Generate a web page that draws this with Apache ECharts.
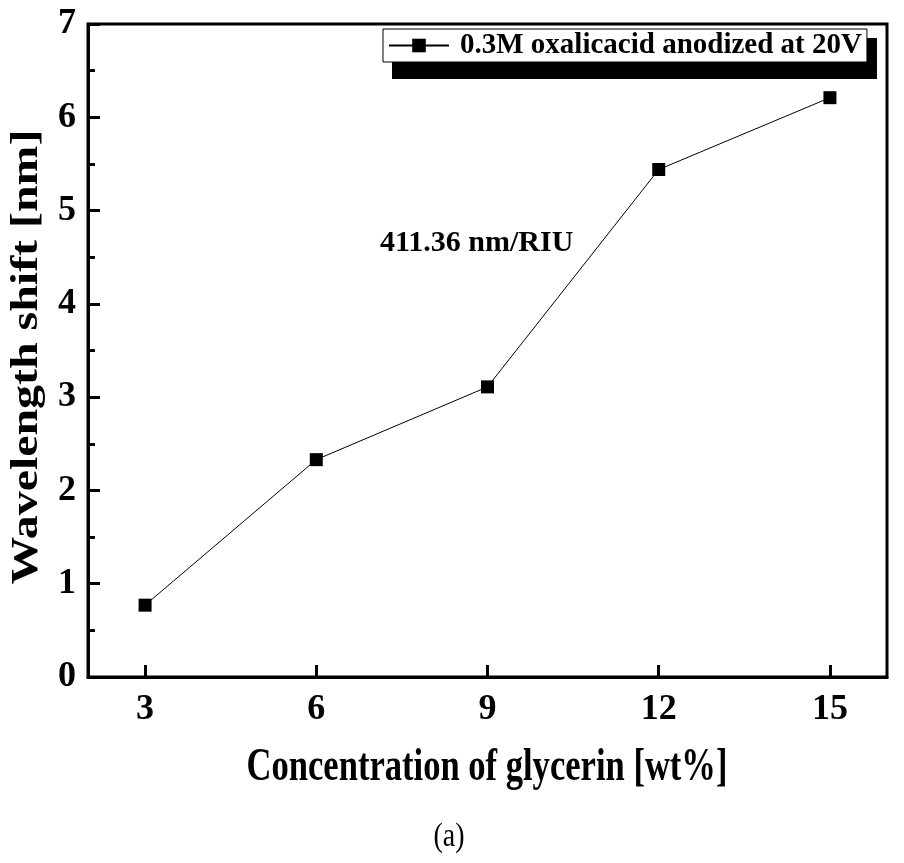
<!DOCTYPE html>
<html>
<head>
<meta charset="utf-8">
<script src="https://cdn.jsdelivr.net/npm/echarts@6/dist/echarts.min.js"></script>
<style>
html,body{margin:0;padding:0;background:#fff;}
#c{width:904px;height:863px;}
</style>
</head>
<body>
<div id="c"></div>
<script>
var concentration = [3, 6, 9, 12, 15];
var wavelengthShift = [0.77, 2.33, 3.11, 5.44, 6.21];
var xTicks = [3, 6, 9, 12, 15];
var seriesName = '0.3M oxalicacid anodized at 20V';
var annotation = '411.36 nm/RIU';
var xTitle = 'Concentration of glycerin [wt%]';
var yTitle = 'Wavelength shift [nm]';
var caption = '(a)';

var FONT = '"Liberation Serif", "Times New Roman", serif';
var chart = echarts.init(document.getElementById('c'), null, {renderer: 'canvas'});
var data = concentration.map(function (x, i) { return [x, wavelengthShift[i]]; });

chart.setOption({
  animation: false,
  backgroundColor: '#fff',
  grid: {left: 88, right: 17, top: 24, bottom: 186, show: true, borderColor: '#000', borderWidth: 3, containLabel: false},
  xAxis: {
    type: 'value', min: 2, max: 16,
    axisLine: {show: true, lineStyle: {color: '#000', width: 3}},
    axisTick: {show: true, inside: true, length: 12, lineStyle: {color: '#000', width: 3}, customValues: xTicks},
    axisLabel: {fontFamily: FONT, fontWeight: 'bold', fontSize: 36, color: '#000', margin: 15, customValues: xTicks},
    splitLine: {show: false}
  },
  yAxis: {
    type: 'value', min: 0, max: 7, interval: 1,
    axisLine: {show: true, lineStyle: {color: '#000', width: 3}},
    axisTick: {show: true, inside: true, length: 12, lineStyle: {color: '#000', width: 3}},
    minorTick: {show: true, splitNumber: 2, length: 7, lineStyle: {color: '#000', width: 3}},
    axisLabel: {fontFamily: FONT, fontWeight: 'bold', fontSize: 36, color: '#000', margin: 12},
    splitLine: {show: false}
  },
  legend: {
    show: true,
    left: 383, top: 29,
    padding: [2, 5, 2, 5],
    backgroundColor: '#fff',
    borderColor: '#000', borderWidth: 1,
    itemWidth: 60, itemHeight: 17,
    itemGap: 0,
    textStyle: {fontFamily: FONT, fontWeight: 'bold', fontSize: 29, color: '#000', padding: [0, 0, 0, 6]},
    data: [{name: seriesName}]
  },
  graphic: [
    {type: 'rect', left: 392, top: 38, shape: {width: 485, height: 41}, style: {fill: '#000'}, z: 1, silent: true},
    {type: 'text', left: 380, top: 228, style: {text: annotation, font: 'bold 30px ' + FONT, fill: '#000'}, z: 10},
    {type: 'text', x: 487, y: 768, scaleX: 0.96, scaleY: 1.28,
     style: {text: xTitle, font: 'bold 36px ' + FONT, fill: '#000', align: 'center', verticalAlign: 'middle'}, z: 10},
    {type: 'text', x: 27, y: 357, rotation: Math.PI / 2, scaleX: 1.26, scaleY: 1,
     style: {text: yTitle, font: 'bold 38px ' + FONT, fill: '#000', align: 'center', verticalAlign: 'middle'}, z: 10},
    {type: 'text', x: 449, y: 837, scaleY: 1.2,
     style: {text: caption, font: 'normal 28px ' + FONT, fill: '#000', align: 'center', verticalAlign: 'middle'}, z: 10}
  ],
  series: [{
    name: seriesName,
    type: 'line',
    data: data,
    symbol: 'rect',
    symbolSize: 13,
    itemStyle: {color: '#000'},
    lineStyle: {color: '#000', width: 1},
    z: 5
  }]
});
</script>
</body>
</html>
